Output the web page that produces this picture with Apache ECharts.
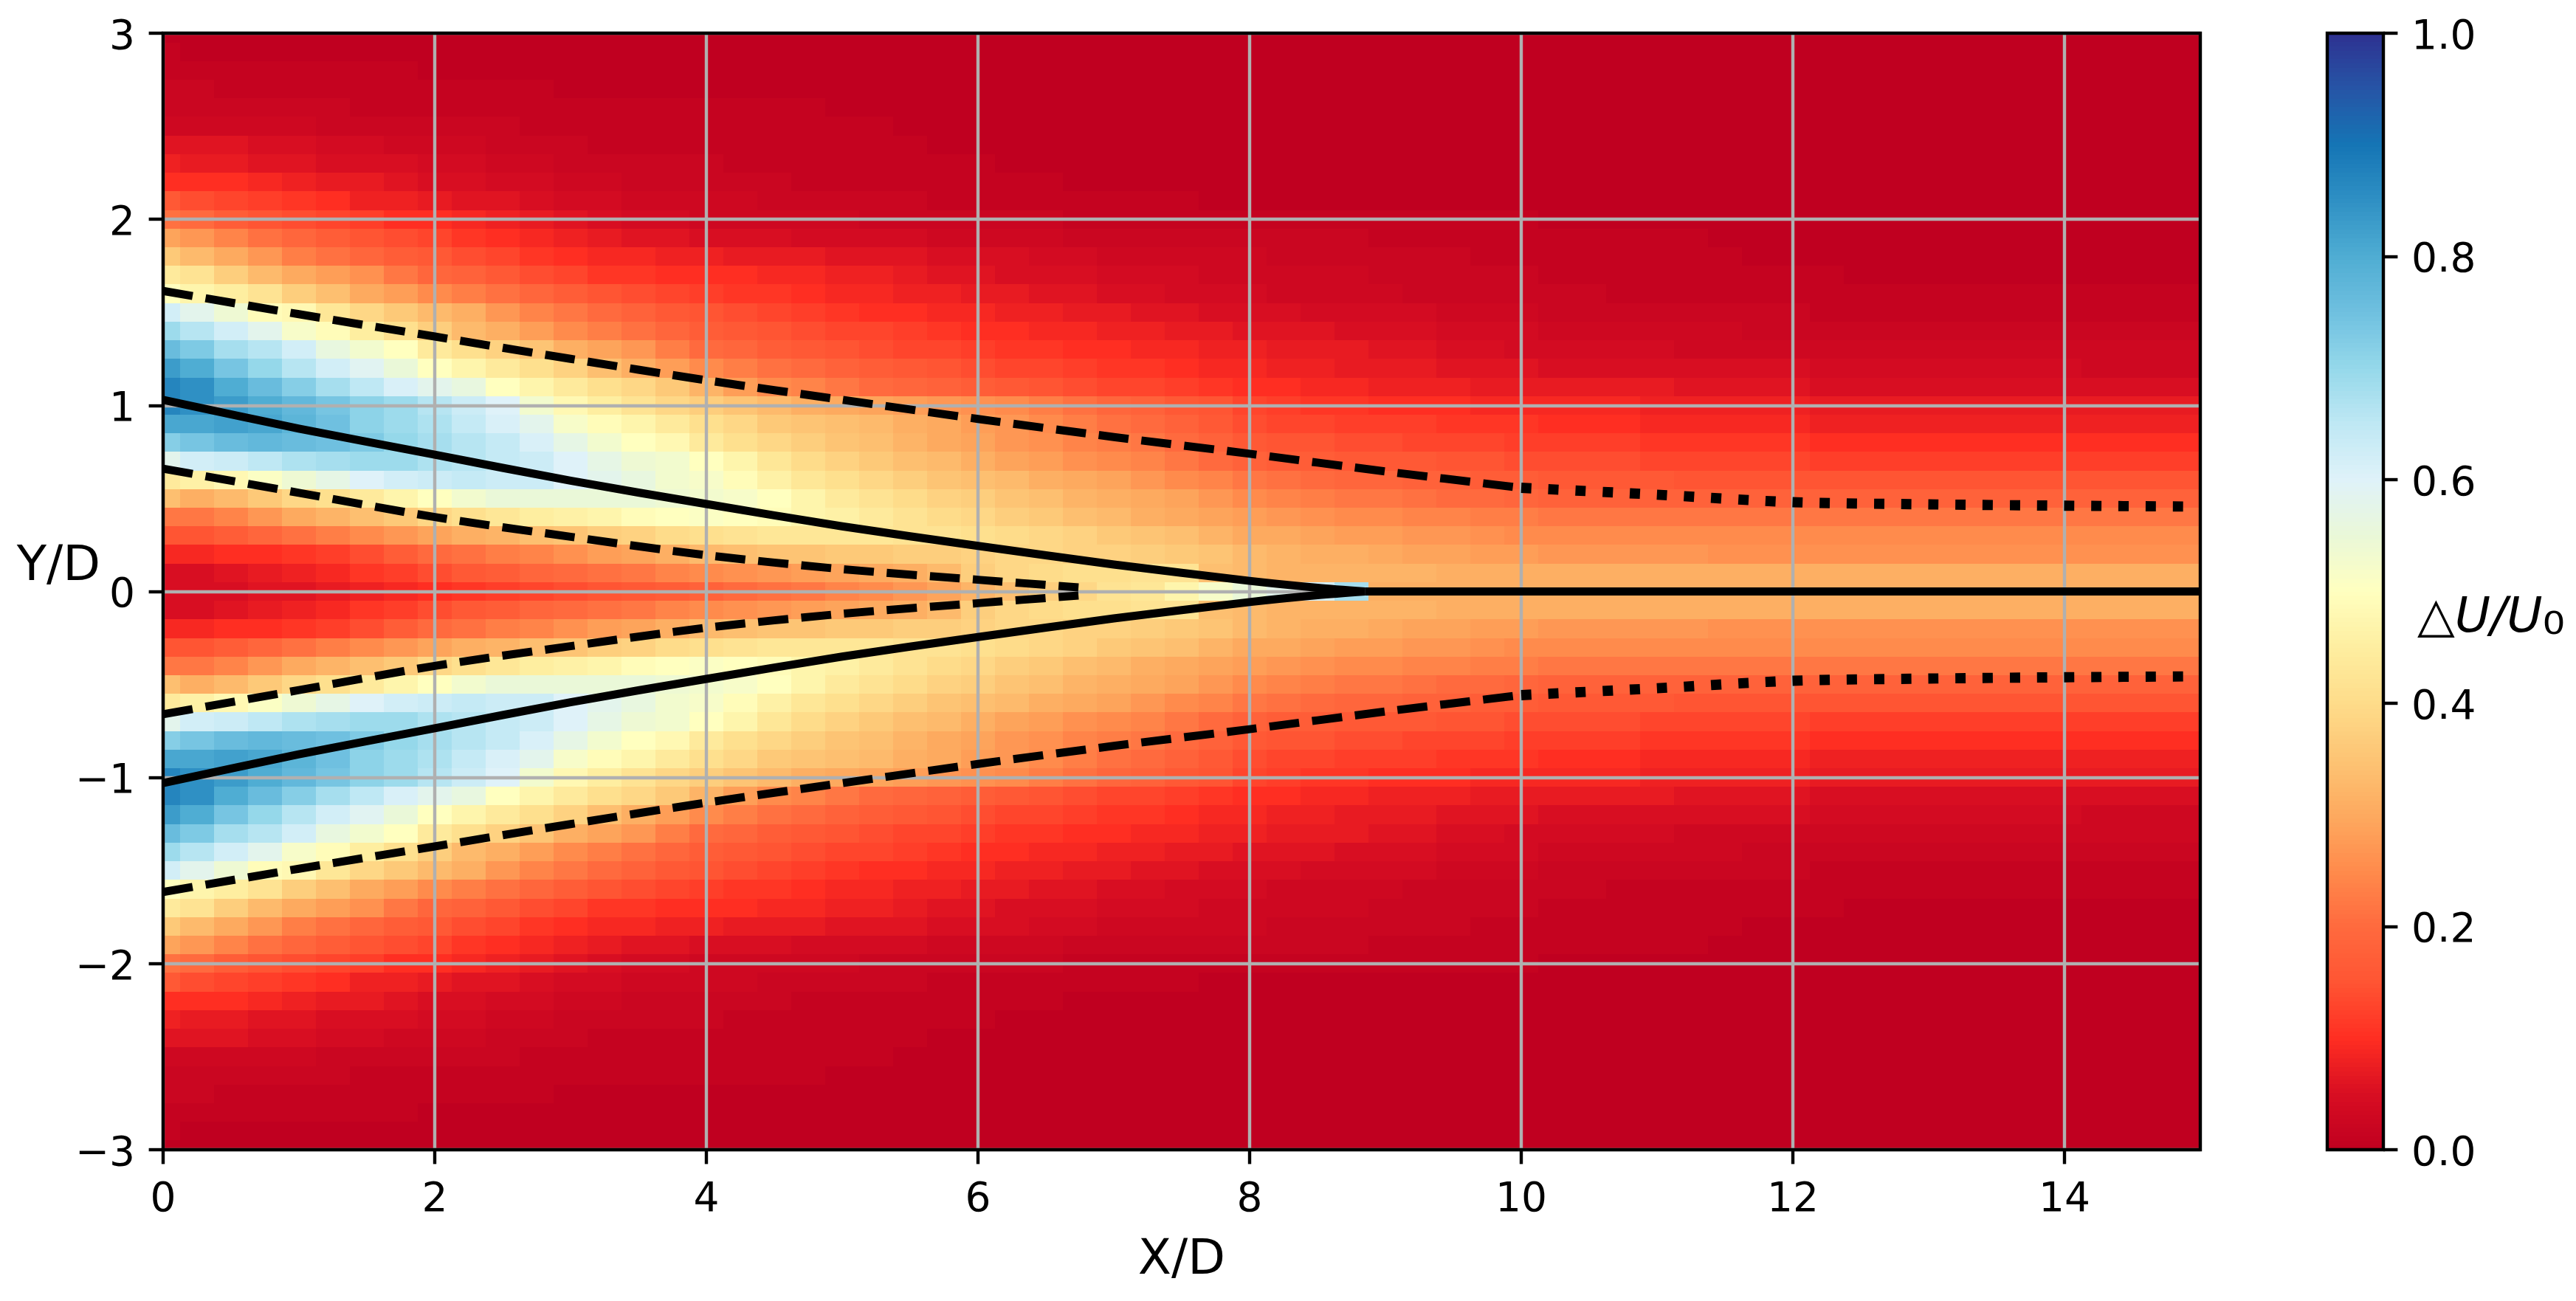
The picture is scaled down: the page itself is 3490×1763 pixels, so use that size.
<!DOCTYPE html>
<html><head><meta charset="utf-8">
<style>html,body{margin:0;padding:0;background:#fff}#c{width:3490px;height:1763px}</style>
<script src="https://cdn.jsdelivr.net/npm/echarts@6/dist/echarts.min.js"></script>
</head><body><div id="c"></div>
<script>
// Cell centres of the field
const xStep = 0.25, yStep = 0.1;
const xLevels = Array.from({length:61},(_, i)=>i*xStep);
// DeltaU/U0 in percent. Rows from Y=3.0 down to Y=0.0; columns X=0..15 in 0.25 steps.
// The picture is symmetric about Y=0, so the rows below Y=0 read the same as those above.
const fieldRowsUpper = [
/*3.0*/[0,0,0,0,0,0,0,0,0,0,0,0,0,0,0,0,0, 0,0,0,0,0,0,0,0,0,0,0,0,0,0,0,0, 0,0,0,0,0,0,0,0,0,0,0,0,0,0,0,0,0,0,0,0,0,0,0,0,0,0,0,0],
/*2.9*/[1,0,0,0,0,0,0,0,0,0,0,0,0,0,0,0,0, 0,0,0,0,0,0,0,0,0,0,0,0,0,0,0,0, 0,0,0,0,0,0,0,0,0,0,0,0,0,0,0,0,0,0,0,0,0,0,0,0,0,0,0,0],
/*2.8*/[1,1,1,1,1,1,1,1,0,0,0,0,0,0,0,0,0, 0,0,0,0,0,0,0,0,0,0,0,0,0,0,0,0, 0,0,0,0,0,0,0,0,0,0,0,0,0,0,0,0,0,0,0,0,0,0,0,0,0,0,0,0],
/*2.7*/[2,2,1,1,1,1,1,1,1,1,1,1,0,0,0,0,0, 0,0,0,0,0,0,0,0,0,0,0,0,0,0,0,0, 0,0,0,0,0,0,0,0,0,0,0,0,0,0,0,0,0,0,0,0,0,0,0,0,0,0,0,0],
/*2.6*/[2,2,2,2,2,2,1,1,1,1,1,1,1,1,1,1,1, 1,1,1,0,0,0,0,0,0,0,0,0,0,0,0,0, 0,0,0,0,0,0,0,0,0,0,0,0,0,0,0,0,0,0,0,0,0,0,0,0,0,0,0,0],
/*2.5*/[3,3,3,3,3,2,2,2,2,2,2,1,1,1,1,1,1, 1,1,1,1,1,0,0,0,0,0,0,0,0,0,0,0, 0,0,0,0,0,0,0,0,0,0,0,0,0,0,0,0,0,0,0,0,0,0,0,0,0,0,0,0],
/*2.4*/[6,6,6,5,5,4,4,3,3,3,2,2,2,1,1,1,1, 1,1,1,1,1,1,0,0,0,0,0,0,0,0,0,0, 0,0,0,0,0,0,0,0,0,0,0,0,0,0,0,0,0,0,0,0,0,0,0,0,0,0,0,0],
/*2.3*/[8,7,7,6,6,5,5,5,4,4,3,3,2,2,2,2,2, 1,1,1,1,1,1,1,1,0,0,0,0,0,0,0,0, 0,0,0,0,0,0,0,0,0,0,0,0,0,0,0,0,0,0,0,0,0,0,0,0,0,0,0,0],
/*2.2*/[10,10,10,9,8,7,7,6,5,5,4,4,3,3,2,2,2, 2,2,1,1,1,1,1,1,1,1,0,0,0,0,0,0, 0,0,0,0,0,0,0,0,0,0,0,0,0,0,0,0,0,0,0,0,0,0,0,0,0,0,0,0],
/*2.1*/[16,14,13,12,11,10,8,8,7,6,6,5,4,4,3,3,3, 3,2,2,2,2,2,1,1,1,1,1,1,1,1,0,0, 0,0,0,0,0,0,0,0,0,0,0,0,0,0,0,0,0,0,0,0,0,0,0,0,0,0,0,0],
/*2.0*/[21,20,17,15,14,13,12,10,10,9,8,7,6,5,4,4,3, 3,3,3,3,2,2,2,2,2,2,1,1,1,1,1,1, 1,1,1,1,1,1,1,1,0,0,0,0,0,0,0,0,0,0,0,0,0,0,0,0,0,0,0,0],
/*1.9*/[29,27,24,21,19,17,15,14,13,11,10,9,8,7,6,6,5, 5,5,4,4,4,4,3,3,3,3,2,2,2,2,2,2, 2,2,2,1,1,1,1,1,1,1,1,1,1,0,0,0,0,0,0,0,0,0,0,0,0,0,0,0],
/*1.8*/[36,33,30,27,23,21,19,17,16,14,13,11,10,9,9,8,8, 7,7,7,6,6,6,5,5,5,4,4,3,3,3,3,3, 2,2,2,2,2,2,1,1,1,1,1,1,1,1,0,0,0,0,0,0,0,0,0,0,0,0,0,0],
/*1.7*/[44,42,37,33,30,28,26,22,19,18,16,14,13,11,11,10,10, 10,9,9,8,8,7,6,6,5,5,5,4,4,4,3,3, 3,3,3,2,2,2,2,2,1,1,1,1,1,1,1,1,1,0,0,0,0,0,0,0,0,0,0,0],
/*1.6*/[50,47,45,42,37,34,30,28,25,23,21,19,17,15,14,13,12, 11,11,10,9,9,8,8,7,7,6,6,5,5,4,4,4, 3,3,3,3,2,2,2,2,2,2,1,1,1,1,1,1,1,1,1,1,1,1,1,1,1,1,1,1],
/*1.5*/[62,58,54,49,48,43,39,36,33,31,27,24,22,20,18,16,15, 14,13,12,11,10,10,9,9,8,8,7,7,6,6,5,5, 5,4,4,4,4,3,3,3,2,2,2,2,2,2,2,2,1,1,1,1,1,1,1,1,1,1,1,1],
/*1.4*/[69,66,62,58,52,49,45,41,37,33,31,28,25,23,21,19,17, 16,15,14,13,13,12,11,10,10,9,9,8,8,7,7,6, 6,6,5,5,5,4,4,4,3,3,3,3,3,3,2,2,2,2,2,2,2,2,2,2,2,2,2,2],
/*1.3*/[76,73,68,66,62,56,53,50,44,41,38,35,31,29,27,23,20, 19,17,16,15,14,13,13,12,11,11,10,10,9,9,8,8, 7,7,7,6,6,5,5,4,4,4,4,4,3,3,3,3,3,3,3,3,3,3,3,3,3,3,3,3],
/*1.2*/[83,80,74,70,66,62,59,55,50,47,44,41,38,34,31,28,25, 23,21,20,18,17,16,15,14,13,13,12,11,11,10,9,9, 8,8,7,7,7,6,6,6,5,5,5,5,5,5,5,5,4,4,4,4,4,4,4,4,3,3,3,3],
/*1.1*/[87,85,80,76,72,68,65,61,58,56,50,47,44,41,39,36,32, 28,25,24,22,20,19,18,17,16,15,14,13,13,12,11,10, 10,9,9,8,8,8,7,7,7,7,7,7,6,6,6,6,5,5,5,5,5,5,5,5,5,5,5,5],
/*1.0*/[87,85,83,80,77,74,71,69,66,63,60,53,48,45,42,39,37, 35,33,31,30,29,28,27,26,25,23,21,19,18,16,15,13, 12,11,11,10,10,10,9,9,9,9,9,8,8,8,8,8,7,7,7,7,7,7,7,7,7,7,7,7],
/*0.9*/[81,81,82,81,78,75,71,69,67,64,61,58,52,49,47,44,41, 39,36,35,34,33,31,30,28,27,25,23,21,20,18,16,14, 13,13,12,12,12,11,11,11,10,10,10,9,9,9,9,9,8,8,8,8,8,8,8,8,8,8,8,8],
/*0.8*/[72,74,76,77,76,75,73,70,68,66,64,61,57,53,50,48,44, 41,39,37,35,34,32,30,29,27,26,24,23,22,20,18,16, 15,15,14,14,13,13,13,12,12,12,12,11,11,11,11,11,10,10,10,10,10,10,10,10,10,10,10,10],
/*0.7*/[58,62,63,65,67,68,69,69,67,66,64,63,60,57,54,53,50, 47,43,40,38,36,34,33,31,29,28,26,25,24,22,20,18, 17,17,16,16,16,15,15,14,14,14,14,13,13,13,13,13,12,12,12,12,12,12,12,12,12,12,12,12],
/*0.6*/[44,46,48,51,54,57,60,62,63,64,63,63,60,58,56,53,52, 49,46,43,41,39,37,35,34,33,31,30,29,27,25,24,22, 21,20,19,19,18,18,17,17,16,16,16,16,15,15,15,15,15,15,15,15,15,15,15,15,15,15,15,15],
/*0.5*/[34,31,33,36,39,41,44,47,50,53,55,55,55,55,55,54,53, 52,50,47,44,42,40,38,37,35,34,32,31,30,29,27,25, 24,23,22,22,21,20,20,19,18,18,18,18,18,18,18,18,18,18,18,18,18,18,18,18,18,18,18,18],
/*0.4*/[22,22,24,27,30,32,34,36,39,41,43,45,46,47,49,50,51, 50,49,47,46,44,42,40,39,37,36,34,33,31,30,29,28, 27,26,25,25,24,24,23,23,22,22,22,22,22,22,22,22,22,22,22,22,22,22,22,22,22,22,22,22],
/*0.3*/[15,15,17,19,21,23,25,27,29,31,32,34,35,37,38,40,41, 42,43,43,43,43,42,42,41,40,39,38,36,35,34,32,30, 30,29,28,28,27,27,26,25,25,25,25,25,25,25,25,25,25,25,25,25,25,25,25,25,25,25,25,25],
/*0.2*/[9,9,10,10,11,12,14,17,20,21,23,24,26,28,29,31,33, 34,35,35,36,36,37,37,38,39,39,38,38,37,36,35,33, 32,31,31,30,29,29,28,28,27,27,27,27,27,26,26,26,26,26,26,26,26,26,26,26,26,26,26,26],
/*0.1*/[5,5,6,7,8,9,11,12,14,16,17,19,20,21,22,24,25, 26,27,28,29,30,31,33,37,39,40,41,41,42,42,34,33, 32,32,32,32,32,31,31,31,31,31,31,31,31,31,31,31,31,31,31,31,31,31,31,31,31,31,31,31],
/*0.0*/[5,5,5,6,6,7,8,9,10,11,12,13,14,15,16,17,18, 20,21,22,24,25,27,29,32,34,37,39,42,43,47,52,55, 58,62,68,31,31,31,31,31,31,31,31,31,31,31,31,31,31,31,31,31,31,31,31,31,31,31,31,31]
];
const fieldRows = fieldRowsUpper.concat(fieldRowsUpper.slice(0,-1).reverse());
const yLevels = fieldRows.map((_, i)=> +(3 - i*yStep).toFixed(1));

// Jet boundary lines (upper side; the lower side is its mirror)
const solidX = [0,1,2,3,4,5,6,7,8,8.5,8.85];
const solidY = [1.03,0.875,0.735,0.595,0.47,0.35,0.245,0.145,0.057,0.02,0];
const centreX = [8.85,15];
const centreY = [0,0];
const outerDashX = [0,1,2,3,4,5,6,7,8,9,10];
const outerDashY = [1.615,1.49,1.37,1.25,1.135,1.03,0.927,0.83,0.74,0.645,0.557];
const outerDotX = [10,11,12,13,14,15];
const outerDotY = [0.557,0.52,0.48,0.468,0.461,0.456];
const innerDashX = [0,1,2,3,4,5,6,6.74];
const innerDashY = [0.66,0.53,0.40,0.294,0.195,0.12,0.063,0.022];

const xTickLabels = [0,2,4,6,8,10,12,14];
const colorStops = ['#c00020','#d80e22','#ff2e22','#ff5533','#ff6a3e','#ff8b4c','#fdaa5f','#fdc474','#fedc8a','#feeea0','#ffffbf','#eaf8d8','#dff2f9','#bfe8f4','#95d8ea','#6fc0e0','#4fadd3','#2f90c4','#1575b5','#2655a6','#2e3191'];
const colorbarSteps = 256;

const font = 'DejaVu Sans', labelSize = 55, nameSize = 66, thin = 4.4, tickLen = 19.4;
const fieldData = [];
fieldRows.forEach((row,r)=>row.forEach((v,c)=>fieldData.push([xLevels[c],yLevels[r],v/100])));
const colorbarData = [];
for(let i=0;i<colorbarSteps;i++) colorbarData.push([0.5,(i+0.5)/colorbarSteps,(i+0.5)/colorbarSteps]);

function cell(halfW,halfH){
  return function(params,api){
    const x=api.value(0), y=api.value(1);
    const a=api.coord([x-halfW,y+halfH]), b=api.coord([x+halfW,y-halfH]);
    const x0=Math.round(a[0]), y0=Math.round(a[1]), x1=Math.round(b[0]), y1=Math.round(b[1]);
    return {type:'rect',shape:echarts.graphic.clipRectByRect({x:x0,y:y0,width:x1-x0,height:y1-y0},params.coordSys),style:{fill:api.visual('color')}};
  };
}
const neg = a => a.map(v=>-v);
const zip = (xs,ys) => xs.map((x,i)=>[x,ys[i]]);
function curve(xs,ys,width,dash){
  return {type:'line',xAxisIndex:0,yAxisIndex:0,data:zip(xs,ys),showSymbol:false,symbol:'none',z:5,silent:true,clip:true,
    smooth:0.3,
    lineStyle:{color:'#000',width:width,type:dash,cap:'butt',join:'miter'}};
}
const dashed=[40.7,17.6], dotted=[13.9,22.9];
const tickStyle={show:true,length:tickLen,lineStyle:{color:'#000',width:thin}};
const labelStyle={fontFamily:font,fontSize:labelSize,color:'#000'};

const chart=echarts.init(document.getElementById('c'),null,{renderer:'canvas'});
chart.setOption({
  animation:false,backgroundColor:'#fff',
  title:{text:'{a|△}{b|U/U}{c|₀}',left:3270,top:796,textStyle:{fontWeight:'normal',rich:{
    a:{fontFamily:font,fontWeight:'normal',fontSize:nameSize,color:'#000'},
    b:{fontFamily:font,fontWeight:'normal',fontStyle:'italic',fontSize:nameSize,color:'#000'},
    c:{fontFamily:font,fontWeight:'normal',fontSize:76,color:'#000'}}}},
  grid:[
    {left:221,top:45,width:2760,height:1513,show:true,z:3,backgroundColor:'transparent',borderColor:'#000',borderWidth:thin,outerBoundsMode:'none',containLabel:false},
    {left:3153,top:45,width:76,height:1513,show:true,z:3,backgroundColor:'transparent',borderColor:'#000',borderWidth:thin,outerBoundsMode:'none',containLabel:false}
  ],
  xAxis:[
    {gridIndex:0,type:'value',min:0,max:15,interval:2,z:2,
     name:'X/D',nameLocation:'middle',nameGap:118,nameTextStyle:{fontFamily:font,fontSize:nameSize,color:'#000'},
     axisLine:{show:false,onZero:false},
     axisTick:Object.assign({customValues:xTickLabels},tickStyle),
     axisLabel:Object.assign({customValues:xTickLabels,margin:41},labelStyle),
     splitLine:{show:true,lineStyle:{color:'#b0b0b0',width:thin}}},
    {gridIndex:1,type:'value',min:0,max:1,show:false}
  ],
  yAxis:[
    {gridIndex:0,type:'value',min:-3,max:3,interval:1,z:2,
     name:'Y/D',nameLocation:'middle',nameRotate:0,nameGap:85,nameMoveOverlap:false,nameTextStyle:{fontFamily:font,fontSize:nameSize,color:'#000',verticalAlign:'bottom'},
     axisLine:{show:false,onZero:false},axisTick:tickStyle,
     axisLabel:Object.assign({margin:38,verticalAlign:'top',padding:[-21,0,0,0],formatter:v=>v<0?'\u2212'+Math.abs(v):String(v)},labelStyle),
     splitLine:{show:true,lineStyle:{color:'#b0b0b0',width:thin}}},
    {gridIndex:1,type:'value',min:0,max:1,interval:0.2,position:'right',z:2,
     axisLine:{show:false,onZero:false},axisTick:tickStyle,
     axisLabel:Object.assign({margin:38,verticalAlign:'top',padding:[-21,0,0,0],formatter:v=>v.toFixed(1)},labelStyle),
     splitLine:{show:false}}
  ],
  visualMap:{show:false,type:'continuous',min:0,max:1,dimension:2,seriesIndex:[0,1],inRange:{color:colorStops}},
  series:[
    {type:'custom',xAxisIndex:0,yAxisIndex:0,z:1,silent:true,data:fieldData,encode:{x:0,y:1},renderItem:cell(xStep/2,yStep/2)},
    {type:'custom',xAxisIndex:1,yAxisIndex:1,z:1,silent:true,data:colorbarData,encode:{x:0,y:1},renderItem:cell(0.5,0.5/colorbarSteps)},
    curve(solidX,solidY,11,'solid'),
    curve(solidX,neg(solidY),11,'solid'),
    curve(centreX,centreY,11,'solid'),
    curve(outerDashX,outerDashY,11,dashed),
    curve(outerDashX,neg(outerDashY),11,dashed),
    curve(outerDotX,outerDotY,13.9,dotted),
    curve(outerDotX,neg(outerDotY),13.9,dotted),
    curve(innerDashX,innerDashY,11,dashed),
    curve(innerDashX,neg(innerDashY),11,dashed)
  ]
});
</script></body></html>
